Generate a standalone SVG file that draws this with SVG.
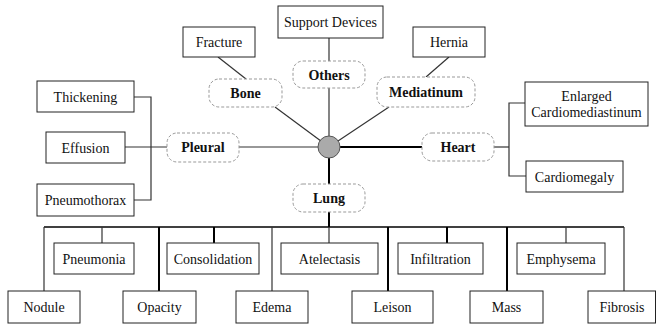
<svg xmlns="http://www.w3.org/2000/svg" width="656" height="325" viewBox="0 0 656 325">
<style>
.box{fill:#fff;stroke:#222;stroke-width:1}
.pill{fill:#fff;stroke:#999;stroke-width:1;stroke-dasharray:3,2}
text{font-family:'Liberation Serif','DejaVu Serif',serif;font-size:14px;fill:#111;text-anchor:middle}
.b{font-weight:bold}
.thin{stroke:#333;stroke-width:1.2;fill:none}
.thick{stroke:#000;stroke-width:2;fill:none}
</style>
<rect width="656" height="325" fill="#fff"/>
<g id="connectors">
  <line class="thin" x1="218" y1="57" x2="246" y2="79"/>
  <line class="thin" x1="275" y1="107" x2="329" y2="147"/>
  <line class="thin" x1="329" y1="38" x2="329" y2="61"/>
  <line class="thin" x1="329" y1="88" x2="329" y2="147"/>
  <line class="thin" x1="449" y1="57" x2="426" y2="77"/>
  <line class="thin" x1="389" y1="107" x2="329" y2="147"/>
  <line class="thin" x1="239" y1="147" x2="329" y2="147"/>
  <line class="thick" x1="329" y1="147" x2="422" y2="147"/>
  <line class="thick" x1="329" y1="147" x2="329" y2="184"/>
  <line class="thick" x1="329" y1="212" x2="329" y2="227"/>
  <polyline class="thin" points="134,97 151,97 151,200 134,200"/>
  <line class="thin" x1="125" y1="147" x2="167" y2="147"/>
  <polyline class="thin" points="525,103 509,103 509,176 526,176"/>
  <line class="thin" x1="494" y1="147" x2="509" y2="147"/>
  <line x1="44" y1="227" x2="624" y2="227" stroke="#000" stroke-width="1.6"/>
  <line class="thin" x1="102" y1="227" x2="102" y2="243"/>
  <line class="thick" x1="214" y1="227" x2="214" y2="243"/>
  <line class="thin" x1="329" y1="227" x2="329" y2="243"/>
  <line class="thick" x1="447" y1="227" x2="447" y2="243"/>
  <line class="thin" x1="566" y1="227" x2="566" y2="243"/>
  <line class="thin" x1="44" y1="227" x2="44" y2="291"/>
  <line class="thick" x1="159" y1="227" x2="159" y2="291"/>
  <line class="thin" x1="272" y1="227" x2="272" y2="291"/>
  <line class="thick" x1="388" y1="227" x2="388" y2="291"/>
  <line class="thick" x1="507" y1="227" x2="507" y2="291"/>
  <line class="thin" x1="624" y1="227" x2="624" y2="291"/>
</g>
<g id="center"><circle cx="329" cy="147" r="11" fill="#aaa" stroke="#555" stroke-width="1"/></g>
<g id="bone"><rect class="pill" x="209" y="79" width="73" height="28" rx="10"/><text class="b" x="245.5" y="98">Bone</text></g>
<g id="others"><rect class="pill" x="293" y="61" width="72" height="27" rx="10"/><text class="b" x="329" y="79.5">Others</text></g>
<g id="mediatinum"><rect class="pill" x="377" y="77" width="98" height="30" rx="10"/><text class="b" x="426" y="97">Mediatinum</text></g>
<g id="pleural"><rect class="pill" x="167" y="133" width="72" height="29" rx="10"/><text class="b" x="203" y="152">Pleural</text></g>
<g id="heart"><rect class="pill" x="422" y="133" width="72" height="28" rx="10"/><text class="b" x="458" y="152">Heart</text></g>
<g id="lung"><rect class="pill" x="293" y="184" width="72" height="28" rx="10"/><text class="b" x="329" y="203">Lung</text></g>
<g id="fracture"><rect class="box" x="183" y="27" width="72" height="30"/><text x="219" y="47">Fracture</text></g>
<g id="support"><rect class="box" x="278" y="6" width="105" height="32"/><text x="330.5" y="27">Support Devices</text></g>
<g id="hernia"><rect class="box" x="413" y="27" width="72" height="30"/><text x="449" y="47">Hernia</text></g>
<g id="thickening"><rect class="box" x="37" y="81" width="97" height="31"/><text x="85.5" y="101.5">Thickening</text></g>
<g id="effusion"><rect class="box" x="46" y="132" width="79" height="31"/><text x="85.5" y="152.5">Effusion</text></g>
<g id="pneumothorax"><rect class="box" x="37" y="184" width="97" height="32"/><text x="85.5" y="205">Pneumothorax</text></g>
<g id="enlarged"><rect class="box" x="525" y="82" width="123" height="44"/><text x="586.5" y="101">Enlarged</text><text x="586.5" y="117">Cardiomediastinum</text></g>
<g id="cardiomegaly"><rect class="box" x="526" y="161" width="97" height="31"/><text x="574.5" y="181.5">Cardiomegaly</text></g>
<g id="pneumonia"><rect class="box" x="54" y="243" width="80" height="31"/><text x="94" y="263.5">Pneumonia</text></g>
<g id="consolidation"><rect class="box" x="167" y="243" width="92" height="31"/><text x="213" y="263.5">Consolidation</text></g>
<g id="atelectasis"><rect class="box" x="281" y="243" width="97" height="31"/><text x="329.5" y="263.5">Atelectasis</text></g>
<g id="infiltration"><rect class="box" x="398" y="243" width="85" height="31"/><text x="440.5" y="263.5">Infiltration</text></g>
<g id="emphysema"><rect class="box" x="517" y="243" width="88" height="31"/><text x="561" y="263.5">Emphysema</text></g>
<g id="nodule"><rect class="box" x="8" y="291" width="72" height="32"/><text x="44" y="311.5">Nodule</text></g>
<g id="opacity"><rect class="box" x="123" y="291" width="73" height="32"/><text x="159.5" y="311.5">Opacity</text></g>
<g id="edema"><rect class="box" x="236" y="291" width="72" height="32"/><text x="272" y="311.5">Edema</text></g>
<g id="leison"><rect class="box" x="352" y="291" width="81" height="32"/><text x="392.5" y="311.5">Leison</text></g>
<g id="mass"><rect class="box" x="470" y="291" width="73" height="32"/><text x="506.5" y="311.5">Mass</text></g>
<g id="fibrosis"><rect class="box" x="588" y="291" width="67.5" height="32"/><text x="622" y="311.5">Fibrosis</text></g>
</svg>
